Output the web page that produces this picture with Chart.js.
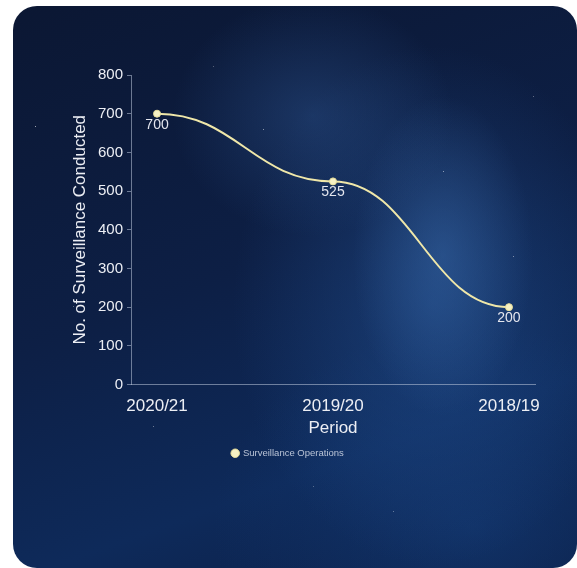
<!DOCTYPE html>
<html>
<head>
<meta charset="utf-8">
<script src="https://cdn.jsdelivr.net/npm/chart.js@4/dist/chart.umd.min.js"></script>
<style>
  html, body { margin: 0; padding: 0; background: #ffffff; width: 577px; height: 568px; overflow: hidden; }
  #card {
    position: absolute; left: 13px; top: 6px; width: 564px; height: 562px;
    border-radius: 24px; overflow: hidden;
    background:
      radial-gradient(ellipse 90px 160px at 430px 250px, rgba(60,110,175,0.45), rgba(60,110,175,0) 100%),
      radial-gradient(ellipse 140px 120px at 300px 110px, rgba(45,85,145,0.45), rgba(45,85,145,0) 100%),
      radial-gradient(ellipse 200px 260px at 420px 300px, rgba(35,80,145,0.55), rgba(35,80,145,0) 100%),
      radial-gradient(ellipse 260px 200px at 460px 520px, rgba(20,60,120,0.6), rgba(20,60,120,0) 100%),
      linear-gradient(160deg, #0b1733 0%, #0d1f45 45%, #0e2a5a 75%, #0b1e45 100%);
  }
  #stars { position: absolute; left: 0; top: 0; width: 1px; height: 1px; background: transparent;
    box-shadow: 22px 120px 0 0 rgba(255,255,255,0.6), 250px 123px 0 0 rgba(255,255,255,0.5),
      430px 165px 0 0 rgba(255,255,255,0.5), 500px 250px 0 0 rgba(255,255,255,0.45),
      140px 420px 0 0 rgba(255,255,255,0.4), 380px 505px 0 0 rgba(255,255,255,0.35),
      60px 300px 0 0 rgba(255,255,255,0.35), 520px 90px 0 0 rgba(255,255,255,0.35),
      300px 480px 0 0 rgba(255,255,255,0.3), 200px 60px 0 0 rgba(255,255,255,0.3); }
  #wrap { position: absolute; left: 0; top: 0; width: 564px; height: 562px; }
</style>
</head>
<body>
<div id="card">
  <div id="stars"></div>
  <div id="wrap"><canvas id="c" width="564" height="562"></canvas></div>
</div>
<script>
const periods = ["2020/21", "2019/20", "2018/19"];
const surveillanceOperations = [700, 525, 200];
const yTicks = [0, 100, 200, 300, 400, 500, 600, 700, 800];
const seriesLabel = "Surveillance Operations";
const xTitle = "Period";
const yTitle = "No. of Surveillance Conducted";

const points = surveillanceOperations.map((v, i) => ({ x: i, y: v }));

const flatCurve = {
  id: 'flatCurve',
  beforeDatasetsDraw(chart) {
    chart.data.datasets.forEach((ds, di) => {
      const meta = chart.getDatasetMeta(di);
      const pts = meta.data;
      const k = 0.45;
      pts.forEach((p, i) => {
        const prev = pts[i - 1], next = pts[i + 1];
        p.cp1x = prev ? p.x - k * (p.x - prev.x) : p.x;
        p.cp1y = p.y;
        p.cp2x = next ? p.x + k * (next.x - p.x) : p.x;
        p.cp2y = p.y;
      });
      if (meta.dataset) { meta.dataset._pointsUpdated = true; meta.dataset._path = undefined; }
    });
  }
};

const valueLabels = {
  id: 'valueLabels',
  afterDatasetsDraw(chart) {
    const ctx = chart.ctx;
    const meta = chart.getDatasetMeta(0);
    ctx.save();
    ctx.font = '14px "Liberation Sans", Arial, sans-serif';
    ctx.fillStyle = '#e4e6ee';
    ctx.textAlign = 'center';
    ctx.textBaseline = 'middle';
    meta.data.forEach((p, i) => {
      ctx.fillText(String(surveillanceOperations[i]), p.x, p.y + 11);
    });
    ctx.restore();
  }
};

Chart.defaults.font.family = '"Liberation Sans", Arial, sans-serif';

new Chart(document.getElementById('c'), {
  type: 'line',
  data: {
    datasets: [{
      label: seriesLabel,
      data: points,
      borderColor: '#efe7a9',
      backgroundColor: '#f4eebc',
      borderWidth: 2,
      pointRadius: 3.5,
      pointBackgroundColor: '#f6f1c4',
      pointBorderColor: '#e9df9a',
      pointBorderWidth: 1,
      tension: 0.4,
      fill: false
    }]
  },
  options: {
    responsive: false,
    animation: false,
    layout: { padding: { left: 28, right: 42, top: 69, bottom: 100 } },
    plugins: {
      legend: {
        position: 'bottom',
        labels: {
          usePointStyle: true,
          pointStyle: 'circle',
          boxWidth: 6, boxHeight: 6,
          color: '#b9c3d6',
          font: { size: 9.5 },
          padding: 10
        }
      },
      tooltip: { enabled: false }
    },
    scales: {
      x: {
        type: 'linear',
        min: -0.148, max: 2.148,
        afterBuildTicks(scale) { scale.ticks = periods.map((_, i) => ({ value: i })); },
        afterFit(scale) { scale.height = 54; },
        ticks: {
          color: '#eceef4',
          font: { size: 17 },
          padding: 12,
          maxRotation: 0,
          autoSkip: false,
          callback: (v) => periods[v] !== undefined ? periods[v] : ''
        },
        grid: { display: false, drawTicks: false },
        border: { display: true, color: 'rgba(190,200,220,0.55)', width: 1 },
        title: { display: true, text: xTitle, color: '#eceef4', font: { size: 17 }, padding: 0 }
      },
      y: {
        min: 0, max: 800,
        afterBuildTicks(scale) { scale.ticks = yTicks.map(v => ({ value: v })); },
        afterFit(scale) { scale.width = 90; },
        ticks: { color: '#eceef4', font: { size: 15 }, padding: 4 },
        grid: { display: true, drawOnChartArea: false, drawTicks: true, tickLength: 4, color: 'rgba(190,200,220,0.55)' },
        border: { display: true, color: 'rgba(190,200,220,0.55)', width: 1 },
        title: { display: true, text: yTitle, color: '#eceef4', font: { size: 17 }, padding: { top: 28.8, bottom: 0 } }
      }
    }
  },
  plugins: [flatCurve, valueLabels]
});
</script>
</body>
</html>
